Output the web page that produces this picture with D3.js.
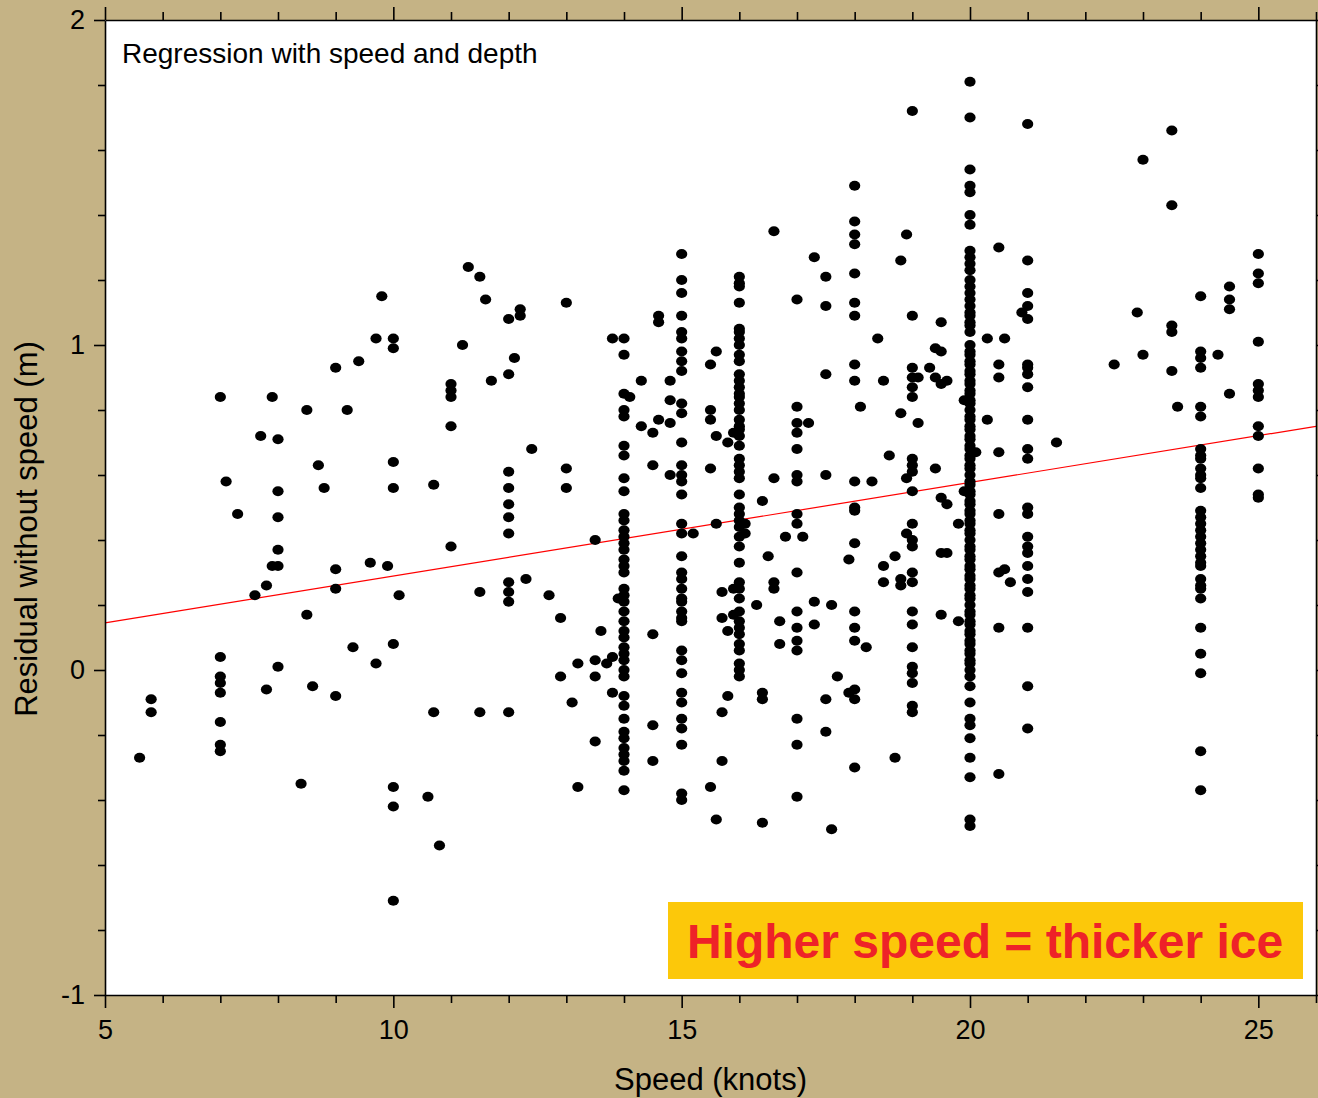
<!DOCTYPE html>
<html>
<head>
<meta charset="utf-8">
<script src="https://cdnjs.cloudflare.com/ajax/libs/d3/7.8.5/d3.min.js"></script>
<style>
    body { margin: 0; background: #c5b385; }
    svg { display: block; font-family: "Liberation Sans", Arial, sans-serif; }
</style>
</head>
<body>
<div id="mainChart"></div>
<script>
// residuals of the boats that sailed at a whole-knot speed
const res7 = [0.84, 0.04, -0.02, -0.04, -0.07, -0.16, -0.23, -0.25];
const res8 = [0.71, 0.55, 0.47, 0.37, 0.32, 0.01];
const res9 = [0.93, 0.31, 0.25, -0.08];
const res10 = [1.02, 0.99, 0.64, 0.56, 0.08, -0.36, -0.42, -0.71];
const res11 = [0.88, 0.86, 0.84, 0.75, 0.38];
const res12 = [1.08, 0.91, 0.61, 0.56, 0.51, 0.47, 0.42, 0.27, 0.24, 0.21, -0.13];
const res13 = [1.13, 0.62, 0.56];
const res14 = [1.02, 0.97, 0.85, 0.80, 0.78, 0.69, 0.66, 0.59, 0.55, 0.48, 0.46, 0.43, 0.41, 0.39,
    0.37, 0.34, 0.32, 0.30, 0.25, 0.23, 0.21, 0.18, 0.15, 0.12, 0.10, 0.07, 0.05, 0.03, 0.00,
    -0.02, -0.08, -0.11, -0.15, -0.19, -0.21, -0.24, -0.26, -0.28, -0.31, -0.37];
const res15 = [1.28, 1.20, 1.16, 1.09, 1.04, 1.02, 0.98, 0.95, 0.92, 0.82, 0.79, 0.70, 0.63, 0.60,
    0.58, 0.54, 0.45, 0.42, 0.35, 0.30, 0.28, 0.25, 0.22, 0.21, 0.18, 0.16, 0.15, 0.06, 0.03,
    -0.01, -0.07, -0.10, -0.15, -0.18, -0.23, -0.38, -0.40];
const res16 = [1.21, 1.19, 1.18, 1.13, 1.05, 1.04, 1.02, 1.00, 0.97, 0.95, 0.91, 0.89, 0.87, 0.85,
    0.84, 0.82, 0.80, 0.77, 0.75, 0.74, 0.72, 0.69, 0.65, 0.63, 0.61, 0.59, 0.54, 0.50, 0.48,
    0.46, 0.44, 0.41, 0.38, 0.33, 0.27, 0.25, 0.22, 0.18, 0.15, 0.13, 0.11, 0.08, 0.06, 0.02,
    0.00, -0.02];
const res17 = [1.14, 0.81, 0.76, 0.73, 0.68, 0.60, 0.58, 0.48, 0.45, 0.30, 0.18, 0.13, 0.09, 0.06,
    -0.15, -0.23, -0.39];
const res18 = [1.49, 1.38, 1.34, 1.31, 1.22, 1.13, 1.09, 0.94, 0.89, 0.58, 0.50, 0.49, 0.39, 0.18,
    0.13, 0.09, -0.06, -0.09, -0.30];
const res19 = [1.72, 1.09, 0.93, 0.90, 0.87, 0.84, 0.65, 0.63, 0.61, 0.55, 0.45, 0.40, 0.38, 0.30,
    0.27, 0.18, 0.14, 0.07, 0.01, -0.01, -0.04, -0.11, -0.13];
const res20 = [1.81, 1.70, 1.54, 1.49, 1.47, 1.40, 1.37, 1.29, 1.27, 1.25, 1.23, 1.20, 1.18, 1.16,
    1.14, 1.12, 1.10, 1.09, 1.07, 1.06, 1.04, 1.00, 0.98, 0.97, 0.95, 0.94, 0.92, 0.91, 0.89,
    0.88, 0.86, 0.85, 0.83, 0.82, 0.80, 0.78, 0.77, 0.75, 0.74, 0.72, 0.71, 0.69, 0.68, 0.66,
    0.65, 0.63, 0.62, 0.60, 0.58, 0.57, 0.55, 0.54, 0.52, 0.51, 0.49, 0.48, 0.46, 0.45, 0.43,
    0.42, 0.40, 0.38, 0.37, 0.35, 0.34, 0.32, 0.31, 0.29, 0.28, 0.26, 0.25, 0.23, 0.22, 0.20,
    0.18, 0.17, 0.15, 0.14, 0.12, 0.11, 0.09, 0.08, 0.06, 0.05, 0.03, 0.02, 0.00, -0.02, -0.05,
    -0.10, -0.15, -0.17, -0.21, -0.27, -0.33, -0.46, -0.48];
const res21 = [1.68, 1.26, 1.16, 1.12, 1.08, 0.94, 0.93, 0.91, 0.87, 0.77, 0.68, 0.65, 0.50, 0.48,
    0.41, 0.38, 0.36, 0.32, 0.28, 0.24, 0.13, -0.05, -0.18];
const res23h = [1.66, 1.43, 1.06, 1.04, 0.92];
const res24 = [1.15, 0.98, 0.96, 0.93, 0.81, 0.78, 0.68, 0.66, 0.65, 0.62, 0.60, 0.59, 0.56, 0.49,
    0.47, 0.45, 0.43, 0.41, 0.39, 0.37, 0.35, 0.33, 0.32, 0.28, 0.26, 0.25, 0.22, 0.13, 0.05,
    -0.01, -0.25, -0.37];
const res24h = [1.18, 1.14, 1.11, 0.85];
const res25 = [1.28, 1.22, 1.19, 1.01, 0.88, 0.86, 0.84, 0.75, 0.72, 0.62, 0.54, 0.53];

// [speed, residual] for the rest
const offColumn = [
    [5.6, -0.27], [5.8, -0.09], [5.8, -0.13], [7.1, 0.58], [7.3, 0.48], [7.6, 0.23], [7.7, 0.72],
    [7.8, 0.26], [7.8, -0.06], [7.9, 0.84], [7.9, 0.32], [8.4, -0.35], [8.5, 0.80], [8.5, 0.17],
    [8.6, -0.05], [8.7, 0.63], [8.8, 0.56], [9.2, 0.80], [9.3, 0.07], [9.4, 0.95], [9.6, 0.33],
    [9.7, 1.02], [9.7, 0.02], [9.8, 1.15], [9.9, 0.32], [10.1, 0.23],
    [10.6, -0.39], [10.7, 0.57], [10.7, -0.13], [10.8, -0.54], [11.2, 1.00], [11.3, 1.24],
    [11.5, 1.21], [11.5, 0.24], [11.5, -0.13], [11.6, 1.14], [11.7, 0.89], [12.1, 0.96],
    [12.2, 1.11], [12.2, 1.09], [12.3, 0.28], [12.4, 0.68], [12.7, 0.23], [12.9, 0.16],
    [12.9, -0.02], [13.1, -0.10], [13.2, 0.02], [13.2, -0.36], [13.5, 0.40], [13.5, 0.03],
    [13.5, -0.02], [13.5, -0.22], [13.6, 0.12], [13.7, 0.02], [13.8, 1.02], [13.8, 0.04],
    [13.8, -0.07], [13.9, 0.22],
    [14.1, 0.84], [14.3, 0.89], [14.3, 0.75], [14.5, 0.73], [14.5, 0.63], [14.5, 0.11],
    [14.5, -0.17], [14.5, -0.28], [14.6, 1.09], [14.6, 1.07], [14.6, 0.77], [14.8, 0.89],
    [14.8, 0.83], [14.8, 0.76], [14.8, 0.60], [15.2, 0.42], [15.5, 0.94], [15.5, 0.80],
    [15.5, 0.77], [15.5, 0.62], [15.5, -0.36], [15.6, 0.98], [15.6, 0.72], [15.6, 0.45],
    [15.6, -0.46], [15.7, 0.24], [15.7, 0.16], [15.7, -0.13], [15.7, -0.28], [15.8, 0.70],
    [15.8, 0.12], [15.8, -0.08], [15.9, 0.73], [15.9, 0.25], [15.9, 0.17], [16.1, 0.45],
    [16.1, 0.42], [16.3, 0.20], [16.4, 0.52], [16.4, -0.07], [16.4, -0.09], [16.4, -0.47],
    [16.5, 0.35], [16.6, 1.35], [16.6, 0.59], [16.6, 0.27], [16.6, 0.25], [16.7, 0.15],
    [16.7, 0.08], [16.8, 0.41], [17.1, 0.41], [17.2, 0.76], [17.3, 1.27], [17.3, 0.21],
    [17.3, 0.14], [17.5, 1.21], [17.5, 1.12], [17.5, 0.91], [17.5, 0.60], [17.5, -0.09],
    [17.5, -0.19], [17.6, 0.20], [17.6, -0.49], [17.7, -0.02], [17.9, 0.34], [17.9, -0.07],
    [18.1, 0.81], [18.2, 0.07], [18.3, 0.58], [18.4, 1.02], [18.5, 0.89], [18.5, 0.32],
    [18.5, 0.27], [18.6, 0.66], [18.7, 0.35], [18.7, -0.27], [18.8, 1.26], [18.8, 0.79],
    [18.8, 0.28], [18.8, 0.26], [18.9, 1.34], [18.9, 0.59], [18.9, 0.42], [19.1, 0.90],
    [19.1, 0.76], [19.3, 0.93], [19.4, 0.99], [19.4, 0.90], [19.4, 0.62], [19.5, 1.07],
    [19.5, 0.98], [19.5, 0.88], [19.5, 0.53], [19.5, 0.36], [19.5, 0.17], [19.6, 0.89],
    [19.6, 0.51], [19.6, 0.36], [19.8, 0.45], [19.8, 0.15], [19.9, 0.83], [19.9, 0.55],
    [20.1, 0.67], [20.3, 1.02], [20.3, 0.77], [20.5, 1.30], [20.5, 0.94], [20.5, 0.90],
    [20.5, 0.67], [20.5, 0.48], [20.5, 0.30], [20.5, 0.13], [20.5, -0.32], [20.6, 1.02],
    [20.6, 0.31], [20.7, 0.27], [20.9, 1.10], [21.5, 0.70],
    [22.5, 0.94], [22.9, 1.10], [23.0, 1.57], [23.0, 0.97], [23.6, 0.81], [24.3, 0.97]
];

const columnSpeeds = [7, 8, 9, 10, 11, 12, 13, 14, 15, 16, 17, 18, 19, 20, 21, 23.5, 24, 24.5, 25];
const columnResiduals = [res7, res8, res9, res10, res11, res12, res13, res14, res15, res16, res17,
    res18, res19, res20, res21, res23h, res24, res24h, res25];

// fitted line
const fitIntercept = 0.145;   // residual at 5 knots
const fitSlope = 0.0288;      // per knot

const xMajor = [5, 10, 15, 20, 25];
const yMajor = [-1, 0, 1, 2];
const titleText = 'Regression with speed and depth';
const noteText = 'Higher speed = thicker ice';

const width = 1318, height = 1098;
const margin = { top: 20, right: 2, bottom: 103, left: 105 };

const points = columnSpeeds.flatMap((s, i) => columnResiduals[i].map(r => ({ speed: s, residual: r })))
    .concat(offColumn.map(d => ({ speed: d[0], residual: d[1] })));

const svg = d3.select('#mainChart').append('svg')
    .attr('width', width)
    .attr('height', height);

svg.append('rect')
    .attr('width', width)
    .attr('height', height)
    .attr('fill', '#c5b385');

const x = d3.scaleLinear()
    .domain([5, 26])
    .range([margin.left, width - margin.right]);

const y = d3.scaleLinear()
    .domain([-1, 2])
    .range([height - margin.bottom, margin.top]);

const xMinor = d3.range(5, 27).filter(v => !xMajor.includes(v));
const yMinor = d3.range(-1, 2.001, 0.2).map(v => +v.toFixed(1)).filter(v => !yMajor.includes(v));

// plot area
svg.append('rect')
    .attr('x', x(5))
    .attr('y', y(2))
    .attr('width', x(26) - x(5))
    .attr('height', y(-1) - y(2))
    .attr('fill', '#fff');

const plot = svg.append('g');

// 拟合线
const line = d3.line()
    .x(d => x(d))
    .y(d => y(fitIntercept + fitSlope * (d - 5)));

plot.append('path')
    .datum([5, 26])
    .attr('fill', 'none')
    .attr('stroke', '#ff0000')
    .attr('stroke-width', 1.2)
    .attr('d', line);

plot.selectAll('.dot')
    .data(points)
    .enter().append('ellipse')
    .attr('class', 'dot')
    .attr('cx', d => x(d.speed))
    .attr('cy', d => y(d.residual))
    .attr('rx', 5.6)
    .attr('ry', 5)
    .attr('fill', '#000');

// axes
const plain = d => String(d);
const styleAxis = g => {
    g.select('.domain').attr('stroke', '#000').attr('stroke-width', 1.6);
    g.selectAll('.tick line').attr('stroke', '#000').attr('stroke-width', 1.6);
    g.selectAll('.tick text').attr('fill', '#000').attr('font-size', 27);
};

svg.append('g')
    .attr('transform', `translate(0,${y(-1)})`)
    .call(d3.axisBottom(x).tickValues(xMajor).tickSize(13).tickSizeOuter(0).tickPadding(12).tickFormat(plain))
    .call(styleAxis);
svg.append('g')
    .attr('transform', `translate(0,${y(-1)})`)
    .call(d3.axisBottom(x).tickValues(xMinor).tickSize(8).tickFormat(''))
    .call(g => g.select('.domain').remove())
    .call(styleAxis);

svg.append('g')
    .attr('transform', `translate(0,${y(2)})`)
    .call(d3.axisTop(x).tickValues(xMajor).tickSize(13).tickSizeOuter(0).tickFormat(''))
    .call(styleAxis);
svg.append('g')
    .attr('transform', `translate(0,${y(2)})`)
    .call(d3.axisTop(x).tickValues(xMinor).tickSize(8).tickFormat(''))
    .call(g => g.select('.domain').remove())
    .call(styleAxis);

svg.append('g')
    .attr('transform', `translate(${x(5)},0)`)
    .call(d3.axisLeft(y).tickValues(yMajor).tickSize(11).tickSizeOuter(0).tickPadding(9).tickFormat(plain))
    .call(styleAxis);
svg.append('g')
    .attr('transform', `translate(${x(5)},0)`)
    .call(d3.axisLeft(y).tickValues(yMinor).tickSize(7).tickFormat(''))
    .call(g => g.select('.domain').remove())
    .call(styleAxis);

svg.append('g')
    .attr('transform', `translate(${x(26)},0)`)
    .call(d3.axisRight(y).tickValues(yMajor.concat(yMinor)).tickSize(8).tickSizeOuter(0).tickFormat(''))
    .call(styleAxis);

// labels
svg.append('text')
    .attr('x', 122)
    .attr('y', 63)
    .attr('font-size', 28)
    .attr('fill', '#000')
    .text(titleText);

svg.append('text')
    .attr('x', (x(5) + x(26)) / 2)
    .attr('y', 1090)
    .attr('text-anchor', 'middle')
    .attr('font-size', 31)
    .attr('fill', '#000')
    .text('Speed (knots)');

svg.append('text')
    .attr('transform', 'translate(37,529) rotate(-90)')
    .attr('text-anchor', 'middle')
    .attr('font-size', 31)
    .attr('fill', '#000')
    .text('Residual without speed (m)');

// annotation
svg.append('rect')
    .attr('x', 668)
    .attr('y', 902)
    .attr('width', 635)
    .attr('height', 77)
    .attr('fill', '#fcc80a');

svg.append('text')
    .attr('x', 985)
    .attr('y', 958)
    .attr('text-anchor', 'middle')
    .attr('font-size', 48)
    .attr('font-weight', 'bold')
    .attr('fill', '#ee2228')
    .text(noteText);
</script>
</body>
</html>
